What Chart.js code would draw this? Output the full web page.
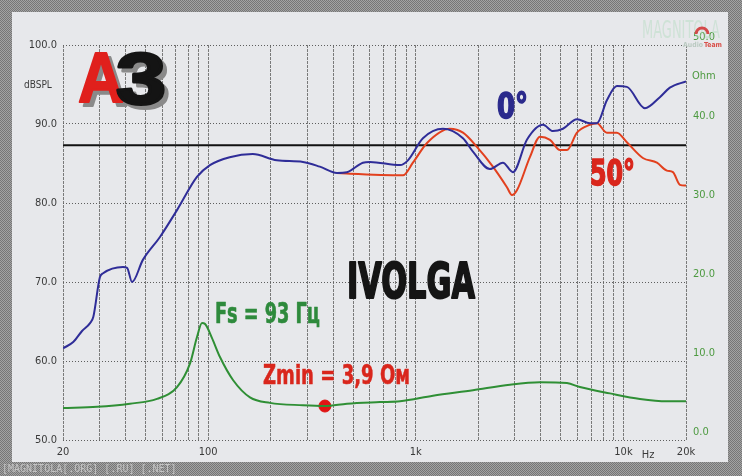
<!DOCTYPE html>
<html>
<head>
<meta charset="utf-8">
<style>
  html, body { margin: 0; padding: 0; background: #8f8f8f; }
  #chart { display: block; }
</style>
</head>
<body>
<canvas id="chart" width="742" height="476"></canvas>
<script src="https://cdn.jsdelivr.net/npm/chart.js@4/dist/chart.umd.min.js"></script>
<script>
// SPL 0 degrees (Hz / dB)
var freq0 = [20, 22.4, 24.7, 27, 28, 30.1, 31.2, 38.9, 40.7, 43.0, 48.5, 58.6, 70.8, 88.3, 102, 127, 164, 214, 286, 345, 417, 466, 556, 601, 840, 916, 1082, 1351, 1687, 1884, 2274, 2627, 2936, 3427, 4094, 4575, 5109, 5970, 6889, 7450, 8318, 9292, 10380, 12680, 14970, 16720, 20000];
var spl0 = [61.6, 62.4, 63.8, 64.8, 65.6, 70.6, 71.1, 71.9, 71.8, 70.0, 72.8, 75.7, 79.1, 83.3, 84.8, 85.8, 86.2, 85.4, 85.2, 84.6, 83.8, 83.9, 85.1, 85.2, 84.8, 85.4, 88.2, 89.4, 88.2, 86.5, 84.3, 85.1, 83.9, 88.0, 89.9, 89.1, 89.4, 90.6, 90.1, 90.1, 93.0, 94.8, 94.7, 92.0, 93.4, 94.6, 95.4];

// SPL 50 degrees
var freq50 = [417, 482, 867, 968, 1132, 1459, 1687, 1969, 2350, 2747, 2903, 3068, 3542, 3962, 4427, 4945, 5344, 5970, 6889, 7450, 8318, 9292, 10380, 12400, 14490, 16180, 17300, 18700, 20000];
var spl50 = [83.8, 83.7, 83.5, 85.1, 87.6, 89.4, 88.9, 87.1, 84.6, 82.0, 81.0, 81.6, 85.8, 88.4, 88.0, 86.7, 86.7, 88.9, 89.9, 90.1, 88.9, 88.9, 87.7, 85.7, 85.1, 84.1, 83.9, 82.3, 82.2];

// impedance (Hz / Ohm)
var freqZ = [20, 29.2, 42.0, 56.7, 70.8, 81.8, 88.3, 93.4, 96.5, 104, 114, 131.7, 159, 198.5, 286, 365, 466, 672, 840, 1209, 1884, 2838, 3962, 5344, 6166, 8603, 12000, 16180, 20000];
var ohm = [4.05, 4.2, 4.6, 5.2, 6.7, 9.7, 13.0, 14.8, 14.7, 13.0, 10.5, 7.6, 5.4, 4.7, 4.4, 4.3, 4.6, 4.8, 4.9, 5.6, 6.3, 7.0, 7.3, 7.2, 6.7, 5.9, 5.2, 4.9, 4.9];

var refLevel = 87.3;
var zminFreq = 365, zminOhm = 4.3;

var xGrid = [20, 30, 40, 50, 60, 70, 80, 90, 100, 200, 300, 400, 500, 600, 700, 800, 900,
  1000, 2000, 3000, 4000, 5000, 6000, 7000, 8000, 9000, 10000, 20000];
var xLabels = { 20: '20', 100: '100', 1000: '1k', 10000: '10k', 20000: '20k' };

function pts(xs, ys) {
  return xs.map(function (x, i) { return { x: x, y: ys[i] }; });
}

var narrow = '"Liberation Sans Narrow", "DejaVu Sans Condensed", sans-serif';

function fitText(ctx, txt, x, y, w, font, color, thick) {
  ctx.save();
  ctx.font = font;
  var m = ctx.measureText(txt).width;
  ctx.translate(x, y);
  ctx.scale(w / m, 1);
  ctx.fillStyle = color;
  ctx.textBaseline = 'alphabetic';
  ctx.textAlign = 'left';
  ctx.fillText(txt, 0, 0);
  if (thick) {
    ctx.strokeStyle = color;
    ctx.lineWidth = thick;
    ctx.lineJoin = 'round';
    ctx.strokeText(txt, 0, 0);
  }
  ctx.restore();
}

var pat = document.createElement('canvas');
pat.width = 2; pat.height = 2;
var pc = pat.getContext('2d');
pc.fillStyle = '#a3a3a3'; pc.fillRect(0, 0, 2, 2);
pc.fillStyle = '#767676'; pc.fillRect(0, 0, 1, 1); pc.fillRect(1, 1, 1, 1);

var frame = {
  id: 'frame',
  beforeDraw: function (chart) {
    var ctx = chart.ctx;
    ctx.save();
    ctx.fillStyle = ctx.createPattern(pat, 'repeat');
    ctx.fillRect(0, 0, chart.width, chart.height);
    ctx.fillStyle = '#e7e8eb';
    ctx.fillRect(12, 12, 716, 450);
    ctx.restore();
  },
  afterDraw: function (chart) {
    var ctx = chart.ctx;
    ctx.save();
    ctx.font = '10px ' + narrow;
    ctx.fillStyle = '#3a3a3a';
    ctx.fillText('dBSPL', 24, 88);
    ctx.fillStyle = '#4d9a40';
    ctx.font = '11px ' + narrow;
    ctx.fillText('Ohm', 692, 79);
    ctx.fillStyle = '#3a3a3a';
    ctx.textAlign = 'center';
    ctx.fillText('Hz', 648, 458);
    ctx.restore();

    fitText(ctx, '0°', 497, 118, 31, 'bold 36px ' + narrow, '#2b2a8c', 1.5);
    fitText(ctx, '50°', 590, 185, 45, 'bold 36px ' + narrow, '#d9261c', 1.5);
    fitText(ctx, 'IVOLGA', 347, 298, 128, 'bold 50px ' + narrow, '#151515', 2);
    fitText(ctx, 'Fs = 93 Гц', 215, 323, 105, 'bold 28px ' + narrow, '#2e8a3c', 0.6);
    fitText(ctx, 'Zmin = 3,9 Ом', 263, 384, 147, 'bold 26px ' + narrow, '#d9261c', 0.5);

    // A3 logo: grey shadow first, then the letters
    var logoA = 'bold 70px "Liberation Sans", sans-serif';
    var logo3 = 'bold 72px "Liberation Sans", sans-serif';
    fitText(ctx, 'A', 82, 106, 46, logoA, '#8a8a8a', 2);
    fitText(ctx, '3', 120, 108, 50, logo3, '#8a8a8a', 3);
    fitText(ctx, 'A', 78, 102, 46, logoA, '#e0201c', 2);
    fitText(ctx, '3', 116, 104, 50, logo3, '#141414', 3);

    // watermark
    ctx.save();
    ctx.globalAlpha = 0.55;
    fitText(ctx, 'MAGNITOLA', 642, 38, 78, '24px ' + narrow, '#b9dcc4');
    ctx.globalAlpha = 1;
    ctx.strokeStyle = '#d44a4a'; ctx.lineWidth = 3;
    ctx.beginPath(); ctx.arc(702, 34, 6, Math.PI, 2 * Math.PI); ctx.stroke();
    fitText(ctx, 'Audio', 683, 47, 20, 'bold 7px ' + narrow, '#b9c9c0');
    fitText(ctx, 'Team', 704, 47, 18, 'bold 7px ' + narrow, '#d9504a');
    ctx.font = '10px "DejaVu Sans Mono", monospace';
    ctx.fillStyle = '#c4c4c4';
    ctx.fillText('[MAGNITOLA[.ORG] [.RU] [.NET]', 2, 472);
    ctx.restore();
  }
};

new Chart(document.getElementById('chart'), {
  type: 'line',
  data: {
    datasets: [{
      label: '0°',
      data: pts(freq0, spl0),
      borderColor: '#2f2d98',
      borderWidth: 2,
      yAxisID: 'y'
    }, {
      label: '50°',
      data: pts(freq50, spl50),
      borderColor: '#e2401e',
      borderWidth: 2,
      yAxisID: 'y'
    }, {
      label: 'ref',
      data: pts([20, 20000], [refLevel, refLevel]),
      borderColor: '#111111',
      borderWidth: 2,
      tension: 0,
      yAxisID: 'y'
    }, {
      label: 'Z',
      data: pts(freqZ, ohm),
      borderColor: '#2f8f35',
      borderWidth: 2,
      yAxisID: 'y1'
    }, {
      type: 'scatter',
      label: 'Zmin',
      data: [{ x: zminFreq, y: zminOhm }],
      backgroundColor: '#e01414',
      borderColor: '#e01414',
      pointRadius: 6,
      yAxisID: 'y1'
    }]
  },
  options: {
    responsive: false,
    animation: false,
    layout: { padding: { left: 12, right: 14, top: 45, bottom: 14 } },
    elements: {
      point: { radius: 0 },
      line: { cubicInterpolationMode: 'monotone', fill: false }
    },
    plugins: { legend: { display: false }, tooltip: { enabled: false } },
    scales: {
      x: {
        type: 'logarithmic',
        min: 20,
        max: 20000,
        afterBuildTicks: function (scale) {
          scale.ticks = xGrid.map(function (v) { return { value: v }; });
        },
        afterFit: function (scale) { scale.height = 22; },
        ticks: {
          autoSkip: false,
          maxRotation: 0,
          padding: 6,
          color: '#3a3a3a',
          font: { family: narrow, size: 11 },
          callback: function (v) { return xLabels[v] || ''; }
        },
        grid: { color: '#7a7a7a', lineWidth: 1, drawTicks: false },
        border: { display: false, dash: [3, 1] }
      },
      y: {
        position: 'left',
        min: 50,
        max: 100,
        afterFit: function (scale) { scale.width = 51; },
        ticks: {
          stepSize: 10,
          padding: 6,
          color: '#3a3a3a',
          font: { family: narrow, size: 11 },
          callback: function (v) { return v.toFixed(1); }
        },
        grid: { color: '#5e5e5e', lineWidth: 1, drawTicks: false },
        border: { display: false, dash: [1, 2] }
      },
      y1: {
        position: 'right',
        min: 0,
        max: 50,
        afterFit: function (scale) { scale.width = 42; },
        ticks: {
          stepSize: 10,
          padding: 7,
          labelOffset: -8,
          color: '#4d9a40',
          font: { family: narrow, size: 11 },
          callback: function (v) { return v.toFixed(1); }
        },
        grid: { display: false, drawTicks: false },
        border: { display: false }
      }
    }
  },
  plugins: [frame]
});
</script>
</body>
</html>
